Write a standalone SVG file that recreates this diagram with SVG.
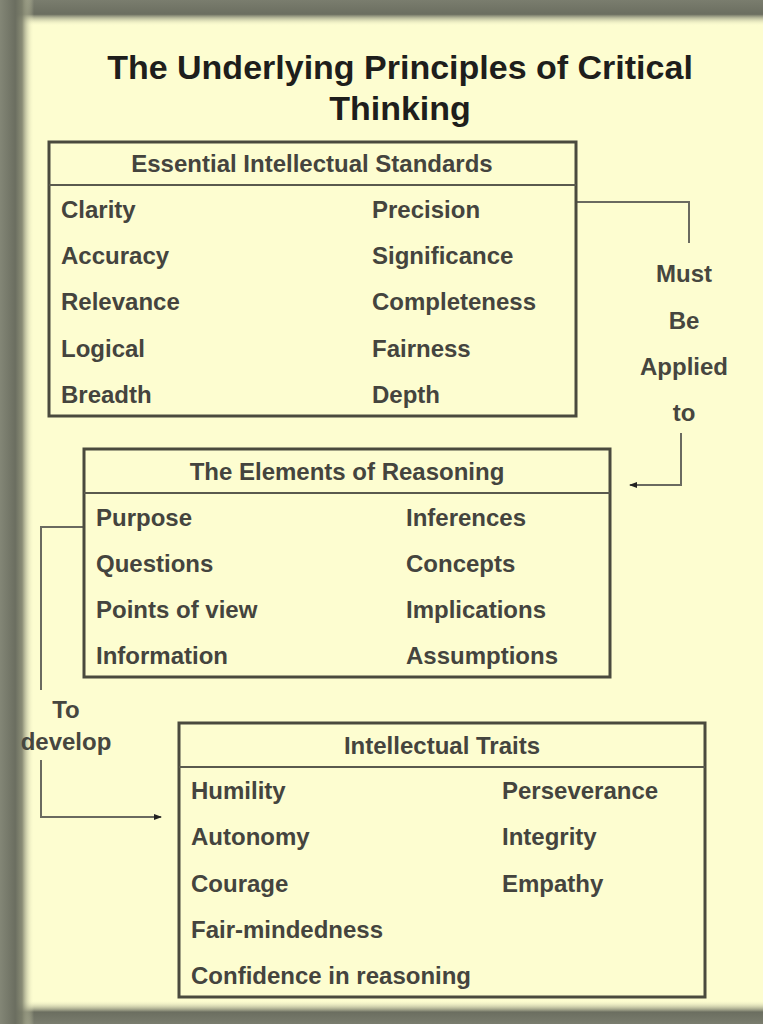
<svg xmlns="http://www.w3.org/2000/svg" width="763" height="1024" viewBox="0 0 763 1024">
<style>
.box{fill:none;stroke:#4a4a3e;stroke-width:3}
.div{stroke:#5a5a4e;stroke-width:2}
.t{font-family:"Liberation Sans",Arial,sans-serif;font-weight:bold;font-size:24px;fill:#44443e}
.h{text-anchor:middle}
.title{font-family:"Liberation Sans",Arial,sans-serif;font-weight:bold;font-size:34px;fill:#1e1e1c;text-anchor:middle}
.lbl{font-family:"Liberation Sans",Arial,sans-serif;font-weight:bold;font-size:24px;fill:#46463f;text-anchor:middle}
.con{fill:none;stroke:#6a6a60;stroke-width:2}
</style>
<defs>
<linearGradient id="gl" x1="0" y1="0" x2="1" y2="0">
<stop offset="0" stop-color="#838676"/><stop offset="0.45" stop-color="#6b6e60"/><stop offset="0.65" stop-color="#7d806c" stop-opacity="0.9"/><stop offset="1" stop-color="#fdfdd0" stop-opacity="0"/>
</linearGradient>
<linearGradient id="gt" x1="0" y1="0" x2="0" y2="1">
<stop offset="0" stop-color="#7a7d6e"/><stop offset="0.55" stop-color="#6b6e60"/><stop offset="1" stop-color="#fdfdd0" stop-opacity="0"/>
</linearGradient>
<linearGradient id="gb" x1="0" y1="1" x2="0" y2="0">
<stop offset="0" stop-color="#7a7d6e"/><stop offset="0.5" stop-color="#6b6e60"/><stop offset="1" stop-color="#fdfdd0" stop-opacity="0"/>
</linearGradient>
<marker id="arr" markerWidth="8" markerHeight="8" refX="7" refY="4" orient="auto" markerUnits="userSpaceOnUse"><path d="M0,1 L8,4 L0,7 Z" fill="#222"/></marker>
</defs>
<g id="frame">
<rect x="0" y="0" width="763" height="1024" fill="#fdfdd0"/>
<rect x="0" y="0" width="763" height="26" fill="url(#gt)"/>
<rect x="0" y="1000" width="763" height="24" fill="url(#gb)"/>
<rect x="0" y="0" width="34" height="1024" fill="url(#gl)"/>
</g>
<g id="title">
<text class="title" x="400" y="79">The Underlying Principles of Critical</text>
<text class="title" x="400" y="120">Thinking</text>
</g>
<g id="connectors">
<path class="con" d="M576,202 H689 V243"/>
<path class="con" d="M681,433 V485 H630" marker-end="url(#arr)"/>
<path class="con" d="M84,527 H41 V690"/>
<path class="con" d="M41,760 V817 H161" marker-end="url(#arr)"/>
<text class="lbl" x="684" y="282">Must</text>
<text class="lbl" x="684" y="329">Be</text>
<text class="lbl" x="684" y="375">Applied</text>
<text class="lbl" x="684" y="421">to</text>
<text class="lbl" x="66" y="718">To</text>
<text class="lbl" x="66" y="750">develop</text>
</g>
<g id="standards">
<rect class="box" x="49" y="142" width="527" height="274"/>
<line class="div" x1="49" y1="185" x2="576" y2="185"/>
<text class="t h" x="312" y="172">Essential Intellectual Standards</text>
<text class="t" x="61" y="218">Clarity</text>
<text class="t" x="61" y="264">Accuracy</text>
<text class="t" x="61" y="310">Relevance</text>
<text class="t" x="61" y="357">Logical</text>
<text class="t" x="61" y="403">Breadth</text>
<text class="t" x="372" y="218">Precision</text>
<text class="t" x="372" y="264">Significance</text>
<text class="t" x="372" y="310">Completeness</text>
<text class="t" x="372" y="357">Fairness</text>
<text class="t" x="372" y="403">Depth</text>
</g>
<g id="elements">
<rect class="box" x="84" y="449" width="526" height="228"/>
<line class="div" x1="84" y1="493" x2="610" y2="493"/>
<text class="t h" x="347" y="480">The Elements of Reasoning</text>
<text class="t" x="96" y="526">Purpose</text>
<text class="t" x="96" y="572">Questions</text>
<text class="t" x="96" y="618">Points of view</text>
<text class="t" x="96" y="664">Information</text>
<text class="t" x="406" y="526">Inferences</text>
<text class="t" x="406" y="572">Concepts</text>
<text class="t" x="406" y="618">Implications</text>
<text class="t" x="406" y="664">Assumptions</text>
</g>
<g id="traits">
<rect class="box" x="179" y="723" width="526" height="274"/>
<line class="div" x1="179" y1="767" x2="705" y2="767"/>
<text class="t h" x="442" y="754">Intellectual Traits</text>
<text class="t" x="191" y="799">Humility</text>
<text class="t" x="191" y="845">Autonomy</text>
<text class="t" x="191" y="892">Courage</text>
<text class="t" x="191" y="938">Fair-mindedness</text>
<text class="t" x="191" y="984">Confidence in reasoning</text>
<text class="t" x="502" y="799">Perseverance</text>
<text class="t" x="502" y="845">Integrity</text>
<text class="t" x="502" y="892">Empathy</text>
</g>
</svg>
